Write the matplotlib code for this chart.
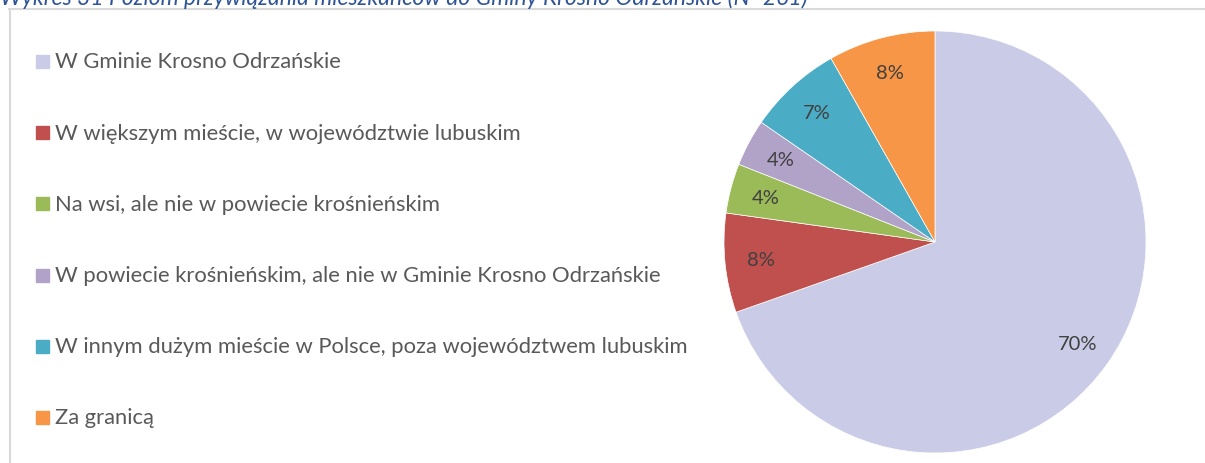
import matplotlib.pyplot as plt
from matplotlib.patches import Rectangle
from matplotlib.lines import Line2D

labels = ["W Gminie Krosno Odrzańskie",
          "W większym mieście, w województwie lubuskim",
          "Na wsi, ale nie w powiecie krośnieńskim",
          "W powiecie krośnieńskim, ale nie w Gminie Krosno Odrzańskie",
          "W innym dużym mieście w Polsce, poza województwem lubuskim",
          "Za granicą"]
values = [69.6, 7.6, 3.8, 3.6, 7.2, 8.2]
colors = ["#CACBE7", "#C0504D", "#9BBB59", "#B1A2C8", "#4BACC6", "#F79646"]
title = "Wykres 31 Poziom przywiązania mieszkańców do Gminy Krosno Odrzańskie (N=261)"

W, H = 1205, 464
fig = plt.figure(figsize=(W / 100, H / 100), dpi=100)

# chart frame (only top and left edge visible)
fig.add_artist(Line2D([9 / W, 1.0], [1 - 9.5 / H, 1 - 9.5 / H], color="#D9D9D9", lw=1.5))
fig.add_artist(Line2D([9.5 / W, 9.5 / W], [0, 1 - 9.5 / H], color="#D9D9D9", lw=1.5))

# title, cut off at the top like in the original
fig.text(0, 1 - 5 / H, title, fontsize=16.5, style="italic", color="#2F5496",
         family="Lato", va="baseline", ha="left")

cx, cy, r = 935, 243, 211
ax = fig.add_axes([(cx - r) / W, (H - cy - r) / H, 2 * r / W, 2 * r / H])
wedges, texts, autotexts = ax.pie(values, colors=colors, startangle=90, counterclock=False,
                                  autopct="%.0f%%", pctdistance=0.83, radius=1,
                                  wedgeprops=dict(edgecolor="white", linewidth=0.5),
                                  textprops=dict(color="#404040", fontsize=14.5, family="Lato"))
ax.set_xlim(-1, 1)
ax.set_ylim(-1, 1)
ax.axis("off")

# legend on the left
for i, (lab, col) in enumerate(zip(labels, colors)):
    y = 62.5 + i * 71.2
    fig.add_artist(Rectangle((36 / W, 1 - (y + 6.5) / H), 13 / W, 13 / H, color=col,
                             transform=fig.transFigure))
    fig.text(55 / W, 1 - y / H, lab, fontsize=15.8, color="#595959", family="Lato",
             va="center", ha="left")

fig.savefig("out.png", dpi=100)
